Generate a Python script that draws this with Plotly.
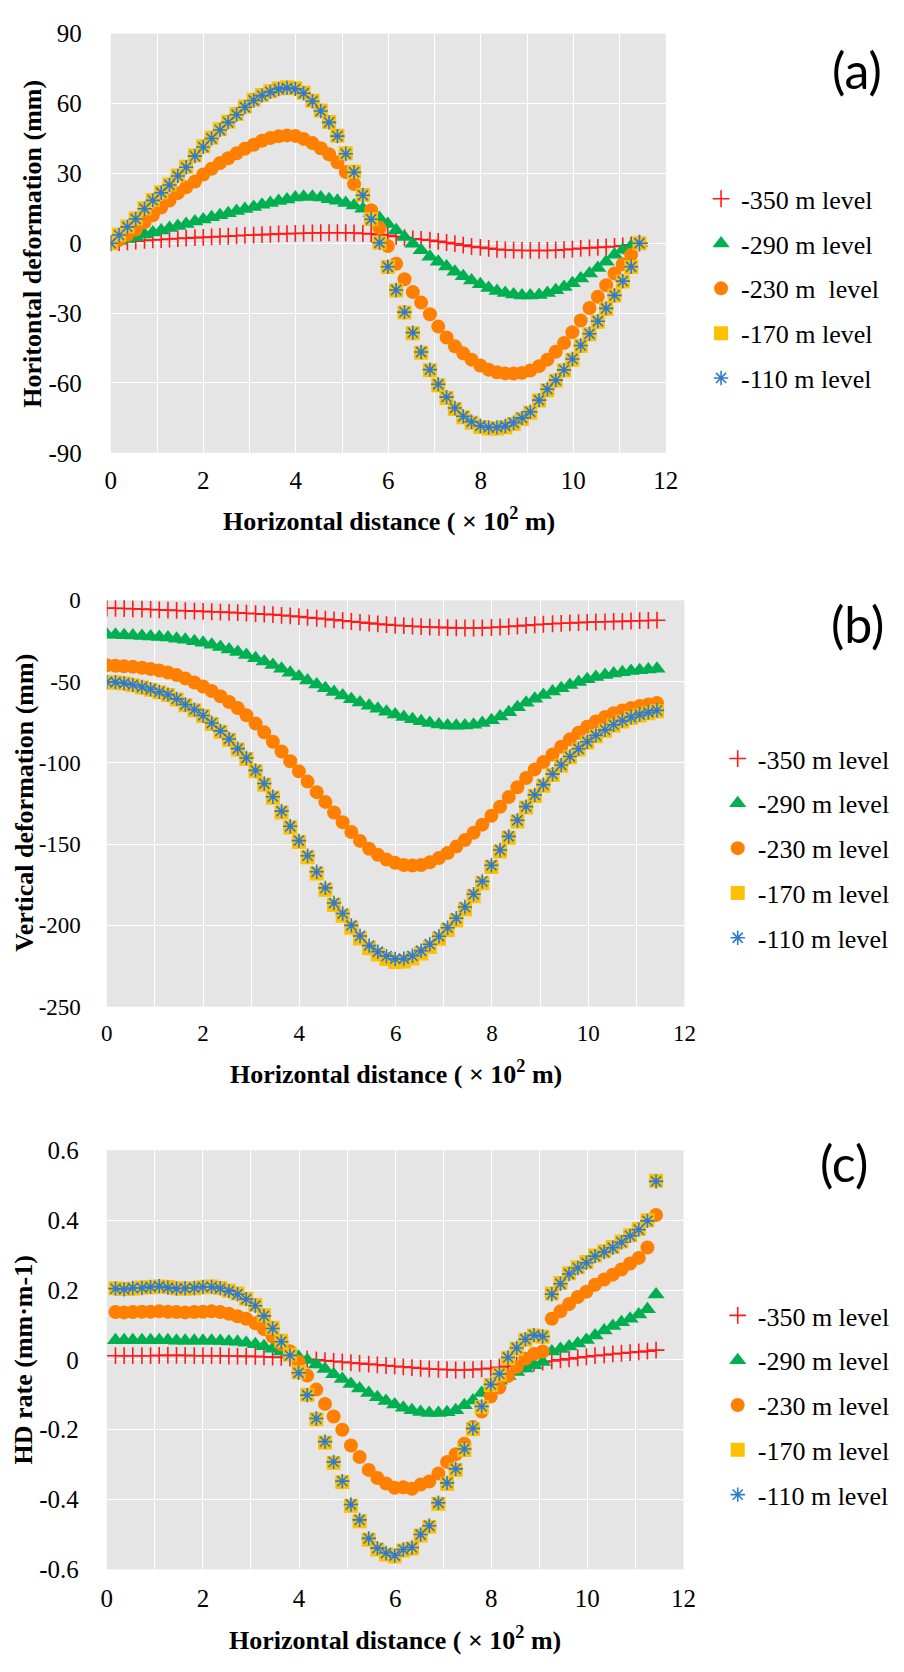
import plotly.graph_objects as go

# Horizontal distance (x 10^2 m) of the monitoring points
dist = [0.00, 0.18, 0.36, 0.54, 0.73, 0.91, 1.09, 1.27, 1.45, 1.63,
        1.82, 2.00, 2.18, 2.36, 2.54, 2.72, 2.90, 3.09, 3.27, 3.45,
        3.63, 3.81, 3.99, 4.17, 4.36, 4.54, 4.72, 4.90, 5.08, 5.26,
        5.45, 5.63, 5.81, 5.99, 6.17, 6.35, 6.53, 6.71, 6.90, 7.08,
        7.26, 7.44, 7.62, 7.80, 7.99, 8.17, 8.35, 8.53, 8.71, 8.89,
        9.07, 9.26, 9.44, 9.62, 9.80, 9.98, 10.16, 10.35, 10.53, 10.71,
        10.89, 11.07, 11.25, 11.43]

# Positions where the horizontal-deformation rate is evaluated
dist_rate = [0.18, 0.36, 0.54, 0.73, 0.91, 1.09, 1.27, 1.45, 1.63, 1.82,
             2.00, 2.18, 2.36, 2.54, 2.72, 2.90, 3.09, 3.27, 3.45, 3.63,
             3.81, 3.99, 4.17, 4.36, 4.54, 4.72, 4.90, 5.08, 5.26, 5.45,
             5.63, 5.81, 5.99, 6.17, 6.35, 6.53, 6.71, 6.90, 7.08, 7.26,
             7.44, 7.62, 7.80, 7.99, 8.17, 8.35, 8.53, 8.71, 8.89, 9.07,
             9.26, 9.44, 9.62, 9.80, 9.98, 10.16, 10.35, 10.53, 10.71, 10.89,
             11.07, 11.25, 11.43]

# (a) Horizontal deformation (mm)
hd_350 = [0.0, 0.3, 0.6, 0.9, 1.2, 1.4, 1.6, 1.8, 2.0, 2.2,
          2.4, 2.5, 2.7, 2.9, 3.0, 3.2, 3.4, 3.5, 3.7, 3.8,
          4.0, 4.1, 4.2, 4.3, 4.4, 4.5, 4.5, 4.5, 4.5, 4.4,
          4.2, 4.0, 3.7, 3.4, 2.9, 2.4, 1.9, 1.6, 1.3, 0.8,
          0.3, -0.2, -0.8, -1.4, -1.8, -2.2, -2.6, -2.9, -3.0, -3.1,
          -3.1, -3.1, -3.1, -3.0, -2.8, -2.5, -2.2, -2.0, -1.8, -1.6,
          -1.4, -1.1, -0.7, 0.0]
hd_290 = [0.0, 0.9, 1.8, 2.7, 3.7, 4.6, 5.5, 6.5, 7.4, 8.3,
          9.3, 10.2, 11.1, 12.0, 12.9, 13.8, 14.7, 15.6, 16.5, 17.3,
          18.1, 18.8, 19.6, 20.0, 20.0, 19.6, 18.9, 18.2, 17.3, 16.2,
          14.8, 13.0, 10.8, 8.3, 5.6, 2.7, -0.2, -3.0, -5.8, -8.0,
          -10.0, -12.3, -14.2, -16.0, -17.6, -19.2, -20.5, -21.4, -22.0, -22.4,
          -22.5, -22.2, -21.4, -20.2, -18.8, -17.2, -15.2, -13.0, -10.6, -8.0,
          -5.0, -2.8, -1.2, 0.0]
hd_230 = [0.0, 1.4, 3.6, 5.9, 9.0, 12.0, 15.3, 18.3, 21.5, 24.0,
          26.5, 29.5, 32.0, 34.4, 36.5, 38.6, 40.6, 42.3, 44.0, 45.2,
          45.9, 46.3, 46.1, 44.8, 43.0, 40.8, 38.2, 34.8, 30.6, 25.4,
          20.8, 14.2, 6.5, -1.2, -8.8, -15.5, -21.0, -25.5, -30.5, -35.8,
          -40.5, -44.3, -47.3, -50.0, -52.5, -54.3, -55.4, -55.9, -56.0, -55.7,
          -54.7, -52.8, -50.0, -46.6, -42.8, -38.2, -33.2, -27.8, -23.0, -18.0,
          -13.0, -9.0, -5.0, 0.0]
hd_170 = [0.0, 3.6, 7.2, 10.6, 15.0, 18.6, 21.9, 25.2, 29.1, 32.8,
          37.7, 41.6, 45.3, 48.9, 52.2, 55.5, 58.7, 61.6, 63.7, 65.3,
          66.5, 67.0, 66.6, 64.6, 61.2, 57.0, 52.1, 46.2, 38.6, 30.7,
          20.7, 10.4, 0.2, -10.2, -20.3, -29.8, -38.7, -47.0, -54.6, -61.0,
          -66.5, -71.2, -74.7, -77.1, -78.9, -79.6, -79.6, -79.0, -77.6, -75.5,
          -72.8, -67.6, -63.1, -59.1, -54.7, -50.0, -44.1, -39.1, -33.7, -28.2,
          -22.5, -16.4, -10.2, 0.0]
hd_110 = [0.0, 3.5, 7.0, 10.4, 14.8, 18.4, 21.7, 25.0, 28.9, 32.6,
          37.4, 41.3, 45.0, 48.6, 51.9, 55.2, 58.4, 61.3, 63.4, 65.0,
          66.2, 66.7, 66.3, 64.4, 61.0, 56.8, 51.9, 46.0, 38.4, 30.5,
          20.6, 10.3, 0.2, -10.1, -20.1, -29.6, -38.4, -46.7, -54.3, -60.6,
          -66.1, -70.8, -74.3, -76.7, -78.4, -79.1, -79.1, -78.5, -77.1, -75.0,
          -72.4, -67.4, -62.7, -58.8, -54.4, -49.7, -43.9, -38.9, -33.5, -28.0,
          -22.4, -16.3, -10.1, 0.0]

# (b) Vertical deformation (mm)
vd_350 = [-4.8, -4.9, -5.0, -5.2, -5.4, -5.6, -5.8, -6.0, -6.2, -6.4,
          -6.6, -6.8, -7.0, -7.2, -7.4, -7.6, -7.9, -8.2, -8.5, -8.8,
          -9.2, -9.6, -10.0, -10.5, -11.0, -11.5, -12.0, -12.5, -13.0, -13.5,
          -14.0, -14.5, -14.9, -15.3, -15.6, -15.9, -16.2, -16.4, -16.6, -16.8,
          -16.9, -17.0, -17.0, -16.9, -16.7, -16.4, -16.1, -15.8, -15.4, -15.0,
          -14.7, -14.4, -14.1, -13.9, -13.7, -13.5, -13.3, -13.2, -13.0, -12.9,
          -12.7, -12.5, -12.4, -12.2]
vd_290 = [-21.0, -21.2, -21.4, -21.6, -21.9, -22.2, -22.5, -22.9, -23.6, -24.3,
          -25.1, -26.1, -27.3, -28.7, -30.2, -31.8, -33.6, -35.6, -37.6, -39.8,
          -42.1, -44.5, -46.9, -49.3, -51.7, -54.1, -56.4, -58.6, -60.8, -62.9,
          -64.8, -66.7, -68.5, -70.2, -71.7, -73.1, -74.4, -75.5, -76.4, -77.0,
          -77.2, -77.0, -76.5, -75.5, -73.8, -71.5, -68.8, -65.8, -63.0, -60.5,
          -58.2, -56.0, -54.0, -52.0, -50.2, -48.5, -47.2, -46.0, -45.0, -44.2,
          -43.5, -43.0, -42.5, -42.1]
vd_230 = [-40.0, -40.2, -40.5, -40.9, -41.5, -42.2, -43.2, -44.4, -46.0, -48.0,
          -50.5, -53.0, -55.8, -59.0, -62.5, -66.3, -70.7, -75.8, -81.2, -87.0,
          -93.0, -99.0, -105.2, -111.5, -118.0, -124.0, -130.5, -136.5, -142.5, -148.0,
          -152.8, -156.5, -159.5, -161.5, -162.8, -163.2, -162.8, -161.2, -158.5, -155.5,
          -151.5, -147.5, -143.0, -138.0, -132.5, -127.0, -121.0, -115.0, -109.3, -104.0,
          -99.5, -94.8, -90.0, -85.5, -81.5, -77.8, -74.5, -71.8, -69.5, -67.8,
          -66.3, -65.0, -64.0, -63.2]
vd_170 = [-50.4, -50.6, -51.2, -52.3, -53.6, -55.0, -56.6, -58.3, -61.0, -64.5,
          -67.6, -71.2, -76.0, -80.8, -85.8, -91.8, -97.6, -105.2, -113.4, -121.5,
          -130.5, -139.8, -148.6, -158.0, -168.0, -178.0, -187.4, -194.0, -201.4, -208.0,
          -214.0, -217.9, -220.6, -222.5, -222.2, -220.4, -217.2, -213.2, -208.2, -202.8,
          -197.0, -190.0, -182.0, -174.0, -164.0, -154.5, -146.0, -136.0, -127.5, -120.3,
          -114.0, -107.4, -101.8, -96.6, -91.8, -87.5, -83.6, -80.2, -77.0, -74.5,
          -72.4, -70.8, -69.4, -68.2]
vd_110 = [-50.2, -50.4, -51.0, -52.0, -53.3, -54.7, -56.3, -58.0, -60.6, -64.1,
          -67.2, -70.8, -75.5, -80.3, -85.3, -91.2, -97.0, -104.6, -112.7, -120.8,
          -129.7, -139.0, -147.8, -157.1, -167.0, -176.9, -186.2, -192.7, -200.0, -206.5,
          -212.4, -216.2, -218.9, -220.6, -220.4, -218.7, -215.6, -211.6, -206.7, -201.4,
          -195.6, -188.7, -180.8, -172.9, -163.0, -153.6, -145.2, -135.3, -126.9, -119.7,
          -113.4, -106.9, -101.3, -96.1, -91.3, -87.0, -83.1, -79.7, -76.5, -74.0,
          -71.9, -70.3, -68.9, -67.7]

# (c) Horizontal deformation rate (mm/m)
hr_350 = [0.012, 0.012, 0.012, 0.012, 0.012, 0.013, 0.013, 0.013, 0.013, 0.012,
          0.012, 0.012, 0.012, 0.011, 0.011, 0.010, 0.010, 0.009, 0.008, 0.007,
          0.006, 0.004, 0.002, 0.000, -0.002, -0.004, -0.006, -0.008, -0.010, -0.012,
          -0.014, -0.016, -0.018, -0.020, -0.022, -0.024, -0.026, -0.027, -0.028, -0.029,
          -0.029, -0.028, -0.026, -0.024, -0.021, -0.018, -0.015, -0.012, -0.009, -0.006,
          -0.003, 0.000, 0.003, 0.006, 0.009, 0.012, 0.014, 0.017, 0.019, 0.021,
          0.023, 0.025, 0.028]
hr_290 = [0.056, 0.056, 0.056, 0.056, 0.056, 0.056, 0.056, 0.055, 0.055, 0.055,
          0.055, 0.055, 0.054, 0.053, 0.052, 0.049, 0.045, 0.039, 0.032, 0.024,
          0.016, 0.008, 0.000, -0.013, -0.026, -0.041, -0.055, -0.069, -0.082, -0.095,
          -0.107, -0.118, -0.128, -0.137, -0.144, -0.149, -0.152, -0.152, -0.150, -0.144,
          -0.130, -0.116, -0.095, -0.075, -0.060, -0.046, -0.035, -0.025, -0.015, -0.006,
          0.024, 0.031, 0.038, 0.047, 0.057, 0.070, 0.084, 0.097, 0.108, 0.118,
          0.130, 0.145, 0.187]
hr_230 = [0.137, 0.136, 0.137, 0.138, 0.138, 0.139, 0.138, 0.137, 0.136, 0.137,
          0.138, 0.139, 0.137, 0.132, 0.125, 0.118, 0.105, 0.088, 0.067, 0.045,
          0.025, -0.005, -0.045, -0.085, -0.126, -0.162, -0.200, -0.245, -0.278, -0.315,
          -0.338, -0.354, -0.366, -0.365, -0.369, -0.357, -0.348, -0.325, -0.292, -0.270,
          -0.240, -0.192, -0.148, -0.105, -0.079, -0.046, -0.020, 0.003, 0.017, 0.024,
          0.118, 0.139, 0.160, 0.180, 0.195, 0.215, 0.230, 0.244, 0.259, 0.276,
          0.292, 0.322, 0.415]
hr_170 = [0.205, 0.203, 0.204, 0.207, 0.208, 0.210, 0.209, 0.205, 0.204, 0.205,
          0.208, 0.210, 0.206, 0.198, 0.190, 0.175, 0.157, 0.128, 0.092, 0.055,
          0.015, -0.035, -0.100, -0.170, -0.237, -0.295, -0.350, -0.418, -0.462, -0.515,
          -0.543, -0.557, -0.563, -0.546, -0.540, -0.503, -0.478, -0.412, -0.355, -0.315,
          -0.258, -0.198, -0.135, -0.072, -0.042, 0.005, 0.032, 0.058, 0.070, 0.066,
          0.190, 0.220, 0.248, 0.265, 0.280, 0.299, 0.311, 0.323, 0.339, 0.357,
          0.375, 0.400, 0.513]
hr_110 = [0.204, 0.202, 0.206, 0.206, 0.209, 0.211, 0.207, 0.204, 0.205, 0.206,
          0.209, 0.209, 0.205, 0.197, 0.188, 0.174, 0.155, 0.126, 0.090, 0.052,
          0.013, -0.037, -0.101, -0.168, -0.234, -0.292, -0.347, -0.414, -0.458, -0.511,
          -0.539, -0.553, -0.560, -0.543, -0.537, -0.500, -0.475, -0.409, -0.352, -0.312,
          -0.255, -0.196, -0.133, -0.070, -0.040, 0.007, 0.034, 0.059, 0.071, 0.067,
          0.188, 0.218, 0.246, 0.263, 0.278, 0.297, 0.309, 0.321, 0.337, 0.355,
          0.373, 0.398, 0.511]

levels = ["-350 m level", "-290 m level", "-230 m level", "-170 m level", "-110 m level"]
levels_a = ["-350 m level", "-290 m level", "-230 m\u00a0 level", "-170 m level", "-110 m level"]

x_ticks = [0, 2, 4, 6, 8, 10, 12]
x_tick_text = ["0", "2", "4", "6", "8", "10", "12"]
ya_ticks = [-90, -60, -30, 0, 30, 60, 90]
ya_text = ["-90", "-60", "-30", "0", "30", "60", "90"]
yb_ticks = [-250, -200, -150, -100, -50, 0]
yb_text = ["-250", "-200", "-150", "-100", "-50", "0"]
yc_ticks = [-0.6, -0.4, -0.2, 0, 0.2, 0.4, 0.6]
yc_text = ["-0.6", "-0.4", "-0.2", "0", "0.2", "0.4", "0.6"]

W, H = 904, 1672
SERIF = "Liberation Serif"
SANS = "Lato"


def fx(px):
    return px / W


def fy(py):
    return 1 - py / H


# marker style per level: symbol, colour, size, line-only?
styles = [
    ("cross-thin", "#FF1A1A", 12, True),
    ("triangle-up", "#00B050", 15, False),
    ("circle", "#FF8000", 14, False),
    ("square", "#FFC000", 14, False),
    ("asterisk", "#2E7BCF", 12, True),
]


def marker_for(style):
    sym, col, size, thin = style
    if thin:
        return dict(symbol=sym, size=size, color=col, line=dict(color=col, width=1.6))
    return dict(symbol=sym, size=size, color=col, line=dict(width=0))


fig = go.Figure()

panels = [
    ("x", "y", "legend", dist, [hd_350, hd_290, hd_230, hd_170, hd_110], levels_a),
    ("x2", "y2", "legend2", dist, [vd_350, vd_290, vd_230, vd_170, vd_110], levels),
    ("x3", "y3", "legend3", dist_rate, [hr_350, hr_290, hr_230, hr_170, hr_110], levels),
]

for xa, ya, lg, xs, series, names in panels:
    for k, (vals, name, st) in enumerate(zip(series, names, styles)):
        fig.add_trace(go.Scatter(
            x=xs, y=vals, mode="markers", name=name,
            marker=marker_for(st), xaxis=xa, yaxis=ya,
            legend=lg, legendgroup=f"{lg}_{k}", showlegend=True,
        ))


def tick_font(size):
    return dict(family=SERIF, size=size, color="black")


def x_axis(domain, anchor, fsize, standoff):
    return dict(
        domain=domain, anchor=anchor, range=[0, 12],
        tickmode="array", tickvals=x_ticks, ticktext=x_tick_text,
        showgrid=True, gridcolor="white", gridwidth=1,
        minor=dict(dtick=1, tick0=0, showgrid=True, gridcolor="white", gridwidth=1),
        zeroline=False, showline=False, ticks="",
        tickfont=tick_font(fsize), ticklabelstandoff=standoff, fixedrange=True,
    )


def y_axis(domain, anchor, rng, vals, text, fsize, standoff):
    return dict(
        domain=domain, anchor=anchor, range=rng,
        tickmode="array", tickvals=vals, ticktext=text,
        showgrid=True, gridcolor="white", gridwidth=1,
        zeroline=False, showline=False, ticks="",
        tickfont=tick_font(fsize), ticklabelstandoff=standoff, fixedrange=True,
    )


def legend_at(left_px, top_px):
    return dict(
        x=fx(left_px), y=fy(top_px), xanchor="left", yanchor="top",
        xref="paper", yref="paper",
        bgcolor="rgba(0,0,0,0)", borderwidth=0,
        font=dict(family=SERIF, size=26, color="black"),
        traceorder="grouped", tracegroupgap=8, itemsizing="trace",
    )


fig.update_layout(
    width=W, height=H,
    margin=dict(l=0, r=0, t=0, b=0),
    paper_bgcolor="white", plot_bgcolor="#E5E5E5",
    xaxis=x_axis([fx(107), fx(674)], "y", 25, 10),
    yaxis=y_axis([fy(447), fy(21)], "x", [-90, 90], ya_ticks, ya_text, 25, 28),
    xaxis2=x_axis([fx(103), fx(693)], "y2", 23, 10),
    yaxis2=y_axis([fy(1010), fy(597)], "x2", [-250, 0], yb_ticks, yb_text, 23, 25),
    xaxis3=x_axis([fx(103), fx(692)], "y3", 25, 12),
    yaxis3=y_axis([fy(1582), fy(1156)], "x3", [-0.6, 0.6], yc_ticks, yc_text, 25, 27),
    legend=legend_at(710, 165),
    legend2=legend_at(727, 734),
    legend3=legend_at(727, 1300),
    showlegend=True,
)

title_font = dict(family=SERIF, size=26, color="black", weight="bold")
x_title = "Horizontal distance ( \u00d7 10<sup>2</sup> m)"

annotations = [
    (391, 515, x_title, 0),
    (27, 234, "Horitontal deformation (mm)", -90),
    (398, 1077, x_title, 0),
    (18, 803, "Vertical deformation (mm)", -90),
    (397, 1652, x_title, 0),
    (18, 1369, "HD rate (mm\u00b7m-1)", -90),
]
for px, py, txt, ang in annotations:
    fig.add_annotation(
        x=fx(px), y=fy(py), xref="paper", yref="paper", text=txt,
        showarrow=False, textangle=ang, font=title_font,
        xanchor="center", yanchor="middle",
    )

for px, py, txt in [(869, 58, "(a)"), (870, 621, "(b)"), (856, 1169, "(c)")]:
    fig.add_annotation(
        x=fx(px), y=fy(py), xref="paper", yref="paper", text=txt,
        showarrow=False, font=dict(family=SANS, size=50, color="black"),
        xanchor="center", yanchor="middle",
    )

fig.write_html("out.html")
